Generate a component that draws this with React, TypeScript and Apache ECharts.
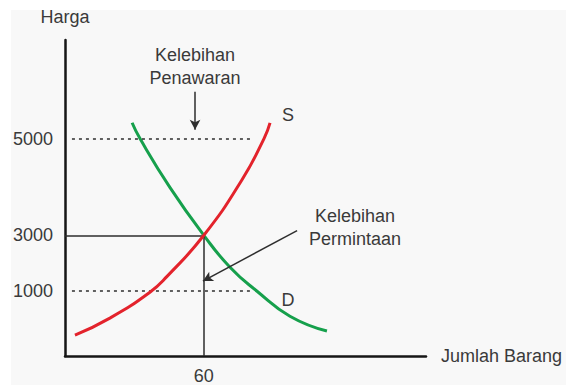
import React, { useEffect, useRef } from "react";
import * as echarts from "echarts";

// Schematic market diagram: axes run in plot units (quantity 0–156, price level 0–100);
// the price ticks sit at fixed levels on the schematic price scale.
const quantityMax = 156;
const levelMax = 100;

const priceTicks = [1000, 3000, 5000];
const priceLevels = [20.5, 38.2, 68.8];
const quantityTicks = [60];

const eqQuantity = 60;
const eqPrice = 3000;

// Supply curve (S)
const supplyQ = [4.3, 19.4, 36.7, 44.1, 60, 76.5, 86.0, 88.6];
const supplyL = [6.6, 12.0, 20.2, 25.2, 38.2, 55.8, 68.8, 73.8];

// Demand curve (D)
const demandQ = [29.0, 32.4, 45.4, 60, 71.3, 83.0, 97.2, 113.2];
const demandL = [73.8, 68.8, 53.3, 38.2, 28.1, 20.5, 12.6, 7.9];

// Dotted price lines: [price, fromQ, toQ]
const surplusLine = [5000, 3.0, 81.2];
const shortageLine = [1000, 3.0, 79.9];

// Annotation arrows: [fromQ, fromLevel, toQ, toLevel]
const surplusArrow = [56.2, 83.6, 56.2, 71.6];
const shortageArrow = [100.3, 39.7, 59.6, 23.7];

const FONT = '"Liberation Sans", Arial, Helvetica, sans-serif';
const TEXT = "#3a3a3a";
const AXIS = "#161616";
const GUIDE = "#2e2e2e";

const levelOf = (price: number) => priceLevels[priceTicks.indexOf(price)];
const priceOf = (level: number) => {
  let best = 0;
  priceLevels.forEach((l, i) => {
    if (Math.abs(l - level) < Math.abs(priceLevels[best] - level)) best = i;
  });
  return String(priceTicks[best]);
};

export default function App() {
  const ref = useRef<HTMLDivElement>(null);

  useEffect(() => {
    if (!ref.current) return;
    const chart = echarts.init(ref.current, null, { renderer: "svg" });

    const eqLevel = levelOf(eqPrice);

    chart.setOption({
      animation: false,
      backgroundColor: "#ffffff",
      textStyle: { fontFamily: FONT },
      grid: { left: 65, right: 140, top: 40, bottom: 28, containLabel: false },
      graphic: [
        {
          type: "rect",
          z: -10,
          shape: { x: 11, y: 10, width: 555, height: 375 },
          style: { fill: "#f8f8f8" },
          silent: true,
        },
        {
          type: "text",
          x: 195,
          y: 66,
          style: {
            text: "Kelebihan\nPenawaran",
            fill: TEXT,
            font: `18px ${FONT}`,
            align: "center",
            verticalAlign: "middle",
            lineHeight: 23,
          },
        },
        {
          type: "text",
          x: 355,
          y: 227,
          style: {
            text: "Kelebihan\nPermintaan",
            fill: TEXT,
            font: `18px ${FONT}`,
            align: "center",
            verticalAlign: "middle",
            lineHeight: 23,
          },
        },
        {
          type: "text",
          x: 288,
          y: 115,
          style: { text: "S", fill: TEXT, font: `18px ${FONT}`, align: "center", verticalAlign: "middle" },
        },
        {
          type: "text",
          x: 288,
          y: 300,
          style: { text: "D", fill: TEXT, font: `18px ${FONT}`, align: "center", verticalAlign: "middle" },
        },
      ],
      xAxis: {
        type: "value",
        min: 0,
        max: quantityMax,
        name: "Jumlah Barang",
        nameLocation: "end",
        nameGap: 15,
        nameTextStyle: { fontSize: 18, color: TEXT, fontFamily: FONT, verticalAlign: "middle" },
        axisLine: { show: true, lineStyle: { color: AXIS, width: 2.5 } },
        axisTick: { show: false },
        splitLine: { show: false },
        axisLabel: {
          customValues: quantityTicks,
          formatter: (v: number) => String(v),
          fontSize: 18,
          color: TEXT,
          fontFamily: FONT,
          margin: 11,
        },
      },
      yAxis: {
        type: "value",
        min: 0,
        max: levelMax,
        name: "Harga",
        nameLocation: "end",
        nameGap: 14,
        nameTextStyle: { fontSize: 18, color: TEXT, fontFamily: FONT, align: "center" },
        axisLine: { show: true, lineStyle: { color: AXIS, width: 2.5 } },
        axisTick: { show: false },
        splitLine: { show: false },
        axisLabel: {
          customValues: priceLevels,
          formatter: (v: number) => priceOf(v),
          fontSize: 18,
          color: TEXT,
          fontFamily: FONT,
          margin: 12,
        },
      },
      series: [
        {
          name: "S",
          type: "line",
          smooth: 0.5,
          symbol: "none",
          lineStyle: { color: "#e3232c", width: 3 },
          data: supplyQ.map((q, i) => [q, supplyL[i]]),
          z: 5,
        },
        {
          name: "D",
          type: "line",
          smooth: 0.5,
          symbol: "none",
          lineStyle: { color: "#16a04c", width: 3 },
          data: demandQ.map((q, i) => [q, demandL[i]]),
          z: 4,
        },
        {
          name: "guides",
          type: "line",
          data: [],
          markLine: {
            silent: true,
            symbol: ["none", "none"],
            label: { show: false },
            data: [
              [
                { coord: [surplusLine[1], levelOf(surplusLine[0])], lineStyle: { type: [3, 4], color: GUIDE, width: 1.5 } },
                { coord: [surplusLine[2], levelOf(surplusLine[0])] },
              ],
              [
                { coord: [shortageLine[1], levelOf(shortageLine[0])], lineStyle: { type: [3, 4], color: GUIDE, width: 1.5 } },
                { coord: [shortageLine[2], levelOf(shortageLine[0])] },
              ],
              [
                { coord: [0, eqLevel], lineStyle: { type: "solid", color: GUIDE, width: 1.5 } },
                { coord: [eqQuantity, eqLevel] },
              ],
              [
                { coord: [eqQuantity, 0], lineStyle: { type: "solid", color: GUIDE, width: 1.5 } },
                { coord: [eqQuantity, eqLevel] },
              ],
            ],
          },
          z: 3,
        },
        {
          name: "arrows",
          type: "line",
          data: [],
          markLine: {
            silent: true,
            symbol: ["none", "arrow"],
            symbolSize: [8, 10],
            label: { show: false },
            lineStyle: { type: "solid", color: GUIDE, width: 1.5 },
            data: [
              [
                { coord: [surplusArrow[0], surplusArrow[1]] },
                { coord: [surplusArrow[2], surplusArrow[3]] },
              ],
              [
                { coord: [shortageArrow[0], shortageArrow[1]] },
                { coord: [shortageArrow[2], shortageArrow[3]] },
              ],
            ],
          },
          z: 6,
        },
      ],
    });

    return () => chart.dispose();
  }, []);

  return (
    <div
      ref={ref}
      style={{ position: "fixed", left: 0, top: 0, width: 566, height: 385 }}
    />
  );
}
